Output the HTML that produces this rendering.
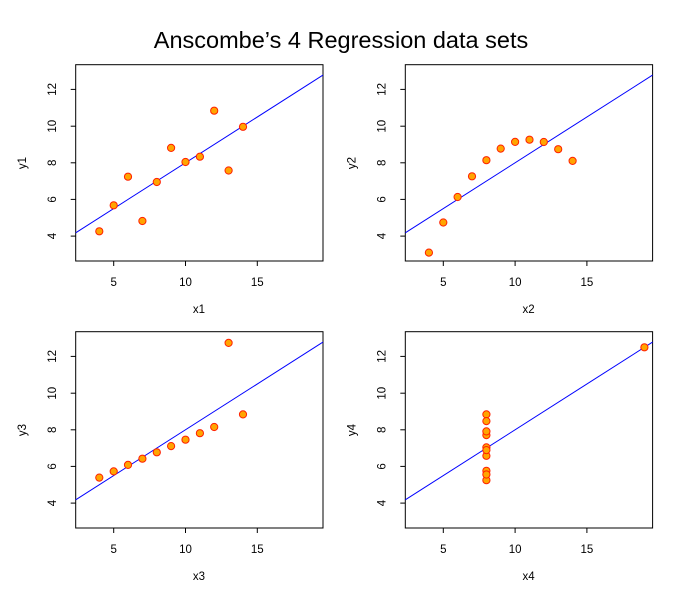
<!DOCTYPE html>
<html><head><meta charset="utf-8"><style>
html,body{margin:0;padding:0;background:#fff;}
svg{display:block;font-family:"Liberation Sans",Arial,sans-serif;}
.ax{fill:none;stroke:#000;stroke-width:1;}
.t{font-size:11.5px;fill:#000;}
.l{font-size:11.5px;fill:#000;}
.p{fill:#ffa500;stroke:#ff2000;stroke-width:1;}
.r{stroke:#0000ff;stroke-width:1;}
</style></head><body>
<svg width="694" height="609" viewBox="0 0 694 609">
<rect width="694" height="609" fill="#fff"/>
<text x="341" y="48" text-anchor="middle" font-size="23.5">Anscombe’s 4 Regression data sets</text>
<defs>
<g id="frame">
<rect class="ax" x="75.7" y="64.7" width="247.3" height="196.3"/>
<g class="ax">
<line x1="113.7" y1="261" x2="113.7" y2="266"/>
<line x1="185.5" y1="261" x2="185.5" y2="266"/>
<line x1="257.3" y1="261" x2="257.3" y2="266"/>
<line x1="75.7" y1="236.1" x2="70.7" y2="236.1"/>
<line x1="75.7" y1="199.4" x2="70.7" y2="199.4"/>
<line x1="75.7" y1="162.8" x2="70.7" y2="162.8"/>
<line x1="75.7" y1="126.2" x2="70.7" y2="126.2"/>
<line x1="75.7" y1="89.4" x2="70.7" y2="89.4"/>
</g>
<g class="t" text-anchor="middle">
<text x="113.7" y="286">5</text><text x="185.5" y="286">10</text><text x="257.3" y="286">15</text>
<text transform="translate(56,236.1) rotate(-90)">4</text>
<text transform="translate(56,199.4) rotate(-90)">6</text>
<text transform="translate(56,162.8) rotate(-90)">8</text>
<text transform="translate(56,126.2) rotate(-90)">10</text>
<text transform="translate(56,89.4) rotate(-90)">12</text>
</g>
<line class="r" x1="75.7" y1="232.8" x2="323" y2="75.1"/>
</g>
</defs>

<g>
<use href="#frame"/>
<text class="l" x="199" y="313" text-anchor="middle">x1</text>
<text class="l" transform="translate(26,163) rotate(-90)" text-anchor="middle">y1</text>
<g class="p">
<circle cx="185.5" cy="162.0" r="3.6"/><circle cx="156.8" cy="182.0" r="3.6"/><circle cx="228.6" cy="170.5" r="3.6"/>
<circle cx="171.1" cy="147.9" r="3.6"/><circle cx="199.9" cy="156.7" r="3.6"/><circle cx="243.0" cy="126.8" r="3.6"/>
<circle cx="128.0" cy="176.7" r="3.6"/><circle cx="99.3" cy="231.3" r="3.6"/><circle cx="214.2" cy="110.7" r="3.6"/>
<circle cx="142.4" cy="221.0" r="3.6"/><circle cx="113.7" cy="205.3" r="3.6"/>
</g>
</g>

<g transform="translate(329.6,0)">
<use href="#frame"/>
<text class="l" x="199" y="313" text-anchor="middle">x2</text>
<text class="l" transform="translate(26,163) rotate(-90)" text-anchor="middle">y2</text>
<g class="p">
<circle cx="185.5" cy="141.9" r="3.6"/><circle cx="156.8" cy="160.2" r="3.6"/><circle cx="228.6" cy="149.2" r="3.6"/>
<circle cx="171.1" cy="148.6" r="3.6"/><circle cx="199.9" cy="139.7" r="3.6"/><circle cx="243.0" cy="160.9" r="3.6"/>
<circle cx="128.0" cy="197.0" r="3.6"/><circle cx="99.3" cy="252.6" r="3.6"/><circle cx="214.2" cy="142.0" r="3.6"/>
<circle cx="142.4" cy="176.3" r="3.6"/><circle cx="113.7" cy="222.5" r="3.6"/>
</g>
</g>

<g transform="translate(0,267)">
<use href="#frame"/>
<text class="l" x="199" y="313" text-anchor="middle">x3</text>
<text class="l" transform="translate(26,163) rotate(-90)" text-anchor="middle">y3</text>
<g class="p">
<circle cx="185.5" cy="172.7" r="3.6"/><circle cx="156.8" cy="185.3" r="3.6"/><circle cx="228.6" cy="75.9" r="3.6"/>
<circle cx="171.1" cy="179.1" r="3.6"/><circle cx="199.9" cy="166.2" r="3.6"/><circle cx="243.0" cy="147.4" r="3.6"/>
<circle cx="128.0" cy="197.9" r="3.6"/><circle cx="99.3" cy="210.6" r="3.6"/><circle cx="214.2" cy="160.0" r="3.6"/>
<circle cx="142.4" cy="191.7" r="3.6"/><circle cx="113.7" cy="204.4" r="3.6"/>
</g>
</g>

<g transform="translate(329.6,267)">
<use href="#frame"/>
<text class="l" x="199" y="313" text-anchor="middle">x4</text>
<text class="l" transform="translate(26,163) rotate(-90)" text-anchor="middle">y4</text>
<g class="p">
<circle cx="156.8" cy="188.8" r="3.6"/><circle cx="156.8" cy="203.8" r="3.6"/><circle cx="156.8" cy="168.1" r="3.6"/>
<circle cx="156.8" cy="147.4" r="3.6"/><circle cx="156.8" cy="154.1" r="3.6"/><circle cx="156.8" cy="180.4" r="3.6"/>
<circle cx="156.8" cy="213.2" r="3.6"/><circle cx="314.8" cy="80.3" r="3.6"/><circle cx="156.8" cy="207.5" r="3.6"/>
<circle cx="156.8" cy="164.4" r="3.6"/><circle cx="156.8" cy="183.1" r="3.6"/>
</g>
</g>
</svg>
</body></html>
